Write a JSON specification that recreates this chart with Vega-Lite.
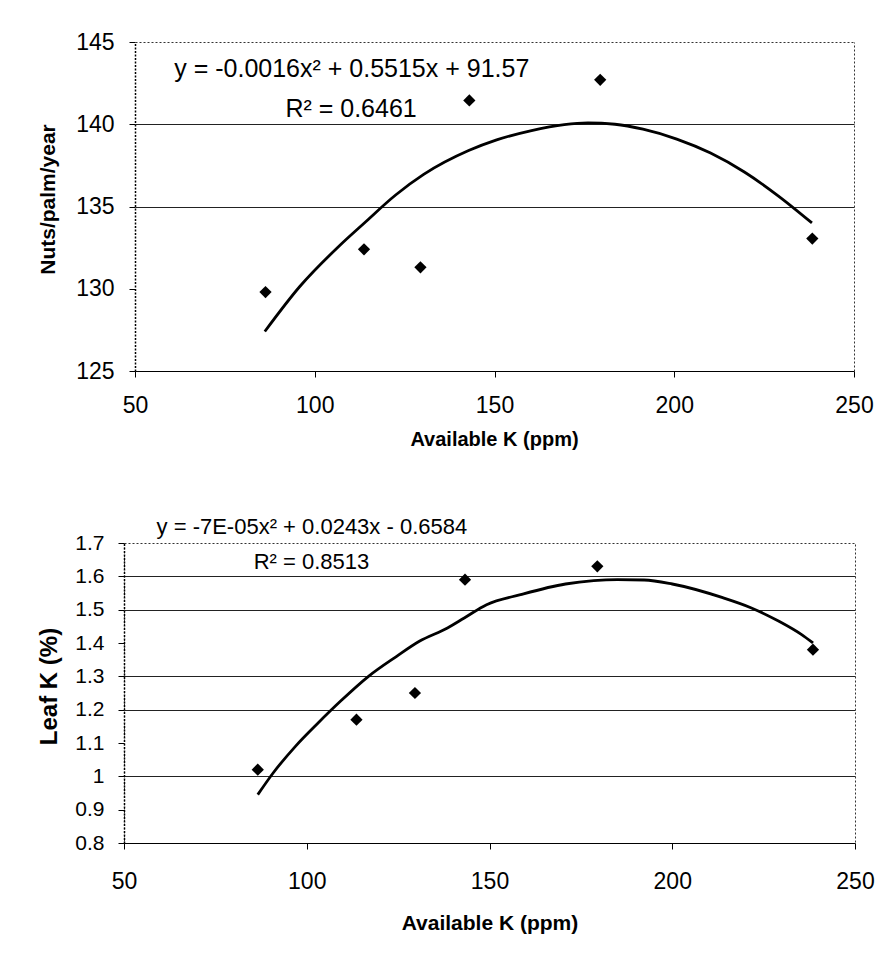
{
  "$schema": "https://vega.github.io/schema/vega-lite/v6.json",
  "padding": {"left": 36, "top": 31, "right": 5, "bottom": 5},
  "background": "white",
  "spacing": 66,
  "config": {
    "font": "Liberation Sans",
    "view": {"stroke": "#333", "strokeDash": [2, 2], "strokeWidth": 1},
    "axis": {
      "labelColor": "black",
      "tickColor": "black",
      "domainColor": "black",
      "titleColor": "black",
      "titleFontWeight": "bold",
      "gridColor": "#222",
      "gridWidth": 1,
      "tickSize": 6,
      "labelFont": "Liberation Sans",
      "titleFont": "Liberation Sans"
    }
  },
  "vconcat": [
    {
      "width": 730,
      "height": 329,
      "view": {"stroke": null},
      "resolve": {"axis": {"x": "independent", "y": "independent"}},
      "layer": [
        {
          "layer": [
            {
              "data": {"values": [
                {"k": 86.1, "v": 127.4}, {"k": 95.9, "v": 130.15}, {"k": 106.8, "v": 132.6},
                {"k": 113.8, "v": 134.0}, {"k": 122.5, "v": 135.7}, {"k": 130.3, "v": 136.95},
                {"k": 142.8, "v": 138.4}, {"k": 150.6, "v": 139.05}, {"k": 160.0, "v": 139.6},
                {"k": 169.4, "v": 139.98}, {"k": 176.0, "v": 140.08}, {"k": 183.5, "v": 140.0},
                {"k": 191.3, "v": 139.7}, {"k": 200.7, "v": 139.1}, {"k": 210.1, "v": 138.25},
                {"k": 219.5, "v": 137.1}, {"k": 228.9, "v": 135.65}, {"k": 238.3, "v": 134.0}
              ]},
              "mark": {"type": "line", "color": "black", "strokeWidth": 2.8, "interpolate": "monotone"},
              "encoding": {
                "x": {"field": "k", "type": "quantitative"},
                "y": {"field": "v", "type": "quantitative"}
              }
            },
            {
              "data": {"values": [
                {"k": 86.3, "v": 129.8}, {"k": 113.7, "v": 132.4}, {"k": 129.4, "v": 131.3},
                {"k": 143.0, "v": 141.45}, {"k": 179.4, "v": 142.7}, {"k": 238.4, "v": 133.05}
              ]},
              "mark": {"type": "point", "shape": "diamond", "filled": true, "color": "black", "size": 150, "opacity": 1},
              "encoding": {
                "x": {"field": "k", "type": "quantitative"},
                "y": {"field": "v", "type": "quantitative"}
              }
            },
            {
              "data": {"values": [
                {"k": 110.3, "v": 143.36, "label": "y = -0.0016x² + 0.5515x + 91.57"},
                {"k": 110.1, "v": 140.93, "label": "R² = 0.6461"}
              ]},
              "mark": {"type": "text", "fontSize": 25, "color": "black", "align": "center", "baseline": "middle", "font": "Liberation Sans"},
              "encoding": {
                "x": {"field": "k", "type": "quantitative"},
                "y": {"field": "v", "type": "quantitative"},
                "text": {"field": "label"}
              }
            }
          ],
          "encoding": {
            "x": {
              "field": "k", "type": "quantitative",
              "scale": {"domain": [50, 250], "range": [11, 730], "nice": false, "zero": false},
              "axis": {
                "orient": "bottom",
                "values": [50, 100, 150, 200, 250], "grid": false,
                "labelFontSize": 23, "labelPadding": 17, "labelFlush": false,
                "title": "Available K (ppm)", "titleFontSize": 20,
                "titleX": 370, "titleY": 68, "titleBaseline": "middle", "titleAlign": "center"
              }
            },
            "y": {
              "field": "v", "type": "quantitative",
              "scale": {"domain": [125, 145], "nice": false, "zero": false},
              "axis": {
                "orient": "left", "offset": -11,
                "values": [125, 130, 135, 140, 145], "grid": true,
                "gridOpacity": {"condition": {"test": "datum.value == 130 || datum.value == 145 || datum.value == 125", "value": 0}, "value": 1},
                "labelFontSize": 23, "labelPadding": 15, "labelFlush": false,
                "domainDash": [2, 1.5], "domainWidth": 1.5,
                "title": "Nuts/palm/year", "titleFontSize": 21,
                "titleX": -87, "titleY": 157, "titleBaseline": "middle", "titleAlign": "center", "titleAngle": 270
              }
            }
          }
        },
        {
          "data": {"values": [
            {"k": 86.3, "v": 129.8}, {"k": 238.4, "v": 133.05}
          ]},
          "mark": {"type": "point", "opacity": 0},
          "encoding": {
            "x": {
              "field": "k", "type": "quantitative",
              "axis": {"orient": "top", "labels": false, "ticks": false, "grid": false, "title": null,
                       "domainColor": "#333", "domainDash": [2, 2], "domainWidth": 1}
            },
            "y": {
              "field": "v", "type": "quantitative",
              "axis": {"orient": "right", "labels": false, "ticks": false, "grid": false, "title": null,
                       "domainColor": "#333", "domainDash": [2, 2], "domainWidth": 1}
            }
          }
        }
      ]
    },
    {
      "width": 731,
      "height": 300,
      "layer": [
        {
          "data": {"values": [
            {"k": 86.6, "v": 0.945}, {"k": 90.8, "v": 1.01}, {"k": 96.9, "v": 1.09},
            {"k": 103.1, "v": 1.16}, {"k": 109.2, "v": 1.225}, {"k": 116.9, "v": 1.30},
            {"k": 124.6, "v": 1.36}, {"k": 130.8, "v": 1.405}, {"k": 138.5, "v": 1.445},
            {"k": 143.1, "v": 1.475}, {"k": 149.2, "v": 1.515}, {"k": 158.5, "v": 1.545},
            {"k": 170.8, "v": 1.577}, {"k": 178.5, "v": 1.587}, {"k": 185.0, "v": 1.59},
            {"k": 192.3, "v": 1.589}, {"k": 200.0, "v": 1.577}, {"k": 213.8, "v": 1.536},
            {"k": 221.5, "v": 1.506}, {"k": 229.2, "v": 1.465}, {"k": 235.4, "v": 1.425},
            {"k": 238.5, "v": 1.40}
          ]},
          "mark": {"type": "line", "color": "black", "strokeWidth": 2.8, "interpolate": "monotone"},
          "encoding": {
            "x": {"field": "k", "type": "quantitative"},
            "y": {"field": "v", "type": "quantitative"}
          }
        },
        {
          "data": {"values": [
            {"k": 86.6, "v": 1.02}, {"k": 113.6, "v": 1.17}, {"k": 129.6, "v": 1.25},
            {"k": 143.3, "v": 1.59}, {"k": 179.5, "v": 1.63}, {"k": 238.5, "v": 1.38}
          ]},
          "mark": {"type": "point", "shape": "diamond", "filled": true, "color": "black", "size": 150, "opacity": 1},
          "encoding": {
            "x": {"field": "k", "type": "quantitative"},
            "y": {"field": "v", "type": "quantitative"}
          }
        },
        {
          "data": {"values": [
            {"k": 101.4, "v": 1.748, "label": "y = -7E-05x² + 0.0243x - 0.6584"},
            {"k": 101.3, "v": 1.643, "label": "R² = 0.8513"}
          ]},
          "mark": {"type": "text", "fontSize": 22, "color": "black", "align": "center", "baseline": "middle", "font": "Liberation Sans"},
          "encoding": {
            "x": {"field": "k", "type": "quantitative"},
            "y": {"field": "v", "type": "quantitative"},
            "text": {"field": "label"}
          }
        }
      ],
      "encoding": {
        "x": {
          "field": "k", "type": "quantitative",
          "scale": {"domain": [50, 250], "nice": false, "zero": false},
          "axis": {
            "values": [50, 100, 150, 200, 250], "grid": false,
            "labelFontSize": 23, "labelPadding": 21, "labelFlush": false,
            "title": "Available K (ppm)", "titleFontSize": 21,
            "titleY": 80, "titleBaseline": "middle"
          }
        },
        "y": {
          "field": "v", "type": "quantitative",
          "scale": {"domain": [0.8, 1.7], "nice": false, "zero": false},
          "axis": {
            "values": [0.8, 0.9, 1, 1.1, 1.2, 1.3, 1.4, 1.5, 1.6, 1.7], "grid": true,
            "gridOpacity": {"condition": {"test": "indexof([0.8, 0.9, 1.1, 1.4, 1.7], datum.value) >= 0", "value": 0}, "value": 1},
            "labelExpr": "'' + datum.value",
            "labelFontSize": 21, "labelPadding": 14, "labelFlush": false,
            "domainDash": [2, 1.5], "domainWidth": 1.5,
            "title": "Leaf K (%)", "titleFontSize": 24,
            "titleX": -75, "titleY": 143, "titleBaseline": "middle", "titleAlign": "center", "titleAngle": 270
          }
        }
      }
    }
  ]
}
